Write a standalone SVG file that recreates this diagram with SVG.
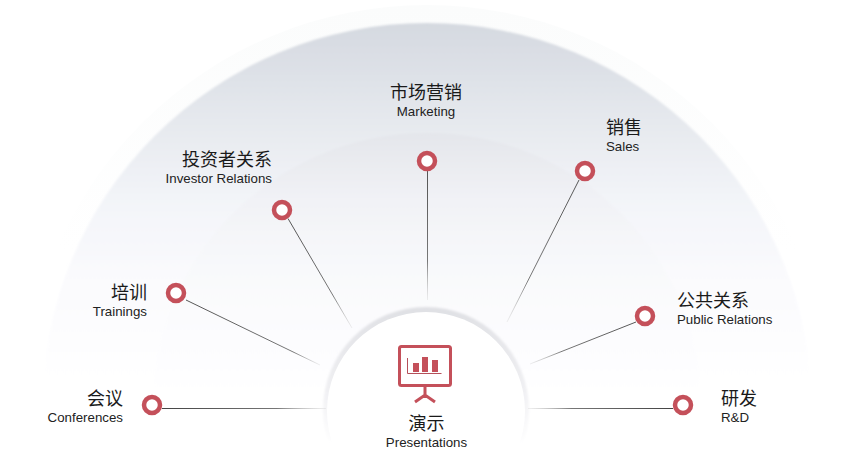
<svg xmlns="http://www.w3.org/2000/svg" width="847" height="459" viewBox="0 0 847 459">
<style>
.cn{font-family:"Noto Sans CJK SC","Liberation Sans",sans-serif;font-size:18px;fill:#1a1a1a}
.en{font-family:"Liberation Sans",sans-serif;font-size:13.300px;fill:#222}
.dot{fill:#fff;stroke:#c4505a;stroke-width:4.500px}
.ln{fill:none;stroke-width:1px}
</style>
<defs>
<linearGradient id="a0" gradientUnits="userSpaceOnUse" x1="0" y1="5" x2="0" y2="250"><stop offset="0" stop-color="#fbfcfc"/><stop offset="1" stop-color="#fff"/></linearGradient>
<linearGradient id="a1" gradientUnits="userSpaceOnUse" x1="0" y1="23" x2="0" y2="390"><stop offset="0" stop-color="#d5d9e0"/><stop offset=".29" stop-color="#e7eaef"/><stop offset=".47" stop-color="#f2f4f8"/><stop offset=".68" stop-color="#fafafd"/><stop offset=".85" stop-color="#fdfdfe"/><stop offset="1" stop-color="#fff"/></linearGradient>
<linearGradient id="a2" gradientUnits="userSpaceOnUse" x1="0" y1="133" x2="0" y2="400"><stop offset="0" stop-color="#e4e6eb"/><stop offset=".25" stop-color="#f1f2f6"/><stop offset=".5" stop-color="#f8f9fb"/><stop offset=".75" stop-color="#fcfcfe"/><stop offset="1" stop-color="#fff"/></linearGradient>
<linearGradient id="l1" gradientUnits="userSpaceOnUse" x1="427" y1="170" x2="427" y2="300"><stop offset="0" stop-color="#555"/><stop offset=".7" stop-color="#777"/><stop offset="1" stop-color="#ccc" stop-opacity=".3"/></linearGradient>
<linearGradient id="l2" gradientUnits="userSpaceOnUse" x1="288" y1="218" x2="352" y2="328"><stop offset="0" stop-color="#555"/><stop offset=".7" stop-color="#777"/><stop offset="1" stop-color="#ccc" stop-opacity=".3"/></linearGradient>
<linearGradient id="l3" gradientUnits="userSpaceOnUse" x1="186" y1="300" x2="320" y2="365"><stop offset="0" stop-color="#555"/><stop offset=".8" stop-color="#777"/><stop offset="1" stop-color="#ccc" stop-opacity=".3"/></linearGradient>
<linearGradient id="l4" gradientUnits="userSpaceOnUse" x1="162" y1="408" x2="326" y2="408"><stop offset="0" stop-color="#444"/><stop offset=".7" stop-color="#777"/><stop offset="1" stop-color="#ccc" stop-opacity=".3"/></linearGradient>
<linearGradient id="l5" gradientUnits="userSpaceOnUse" x1="579" y1="180" x2="507" y2="322"><stop offset="0" stop-color="#555"/><stop offset=".7" stop-color="#777"/><stop offset="1" stop-color="#ccc" stop-opacity=".3"/></linearGradient>
<linearGradient id="l6" gradientUnits="userSpaceOnUse" x1="636" y1="322" x2="530" y2="364"><stop offset="0" stop-color="#555"/><stop offset=".7" stop-color="#777"/><stop offset="1" stop-color="#ccc" stop-opacity=".3"/></linearGradient>
<linearGradient id="l7" gradientUnits="userSpaceOnUse" x1="673" y1="408" x2="528" y2="408"><stop offset="0" stop-color="#444"/><stop offset=".7" stop-color="#777"/><stop offset="1" stop-color="#ccc" stop-opacity=".3"/></linearGradient>
<linearGradient id="ring" gradientUnits="userSpaceOnUse" x1="0" y1="306" x2="0" y2="445"><stop offset="0" stop-color="#dfe0e4"/><stop offset=".6" stop-color="#f0f0f3"/><stop offset="1" stop-color="#fff"/></linearGradient>
<filter id="soft" x="-5%" y="-5%" width="110%" height="110%"><feGaussianBlur stdDeviation="1"/></filter>
</defs>
<rect width="847" height="459" fill="#fff"/>
<g id="background">
<circle cx="427" cy="408" r="403" fill="url(#a0)"/>
<circle cx="427" cy="408" r="385" fill="url(#a1)" filter="url(#soft)"/>
<circle cx="427" cy="408" r="275" fill="url(#a2)" filter="url(#soft)"/>
<circle id="hub-ring" cx="426" cy="410" r="103" fill="url(#ring)" filter="url(#soft)"/>
<circle cx="426" cy="411" r="99" fill="#fff"/>
</g>
<g id="connectors">
<path class="ln" stroke="url(#l1)" d="M427.500 170V300"/>
<path class="ln" stroke="url(#l2)" d="M288 218.500L352 328"/>
<path class="ln" stroke="url(#l3)" d="M186 300L320 365"/>
<path class="ln" stroke="url(#l4)" d="M162 408.500H326"/>
<path class="ln" stroke="url(#l5)" d="M579 180L507 322"/>
<path class="ln" stroke="url(#l6)" d="M636 322L530 364"/>
<path class="ln" stroke="url(#l7)" d="M673 408.500H528"/>
</g>
<g id="node-conferences"><circle class="dot" cx="152" cy="405" r="8"/><text class="cn" x="123" y="405" text-anchor="end">会议</text><text class="en" x="123" y="422" text-anchor="end">Conferences</text></g>
<g id="node-trainings"><circle class="dot" cx="176" cy="293" r="8"/><text class="cn" x="147" y="299" text-anchor="end">培训</text><text class="en" x="147" y="316" text-anchor="end">Trainings</text></g>
<g id="node-investor"><circle class="dot" cx="282" cy="210" r="8"/><text class="cn" x="272" y="166" text-anchor="end">投资者关系</text><text class="en" x="272" y="183" text-anchor="end">Investor Relations</text></g>
<g id="node-marketing"><circle class="dot" cx="427" cy="161" r="8"/><text class="cn" x="426" y="99" text-anchor="middle">市场营销</text><text class="en" x="426" y="116" text-anchor="middle">Marketing</text></g>
<g id="node-sales"><circle class="dot" cx="585" cy="171" r="8"/><text class="cn" x="606" y="134">销售</text><text class="en" x="606" y="151">Sales</text></g>
<g id="node-public"><circle class="dot" cx="645" cy="316" r="8"/><text class="cn" x="677" y="307">公共关系</text><text class="en" x="677" y="324">Public Relations</text></g>
<g id="node-rd"><circle class="dot" cx="683" cy="405" r="8"/><text class="cn" x="721" y="405">研发</text><text class="en" x="721" y="422">R&amp;D</text></g>
<g id="node-presentations">
<rect x="399.500" y="346.500" width="51" height="39" rx="2" fill="#fff" stroke="#c4505a" stroke-width="3"/>
<path d="M407.500 358V373.500H441.500" fill="none" stroke="#b5505a" stroke-width="1"/>
<rect x="413" y="363" width="6" height="9" fill="#c4505a"/><rect x="422" y="357" width="6" height="15" fill="#c4505a"/><rect x="432" y="360" width="6" height="12" fill="#c4505a"/>
<path d="M425 387V398M415 402L425 395L435 402" fill="none" stroke="#c4505a" stroke-width="3"/>
<text class="cn" x="426.500" y="430" text-anchor="middle">演示</text><text class="en" x="426.500" y="447" text-anchor="middle">Presentations</text>
</g>
</svg>
